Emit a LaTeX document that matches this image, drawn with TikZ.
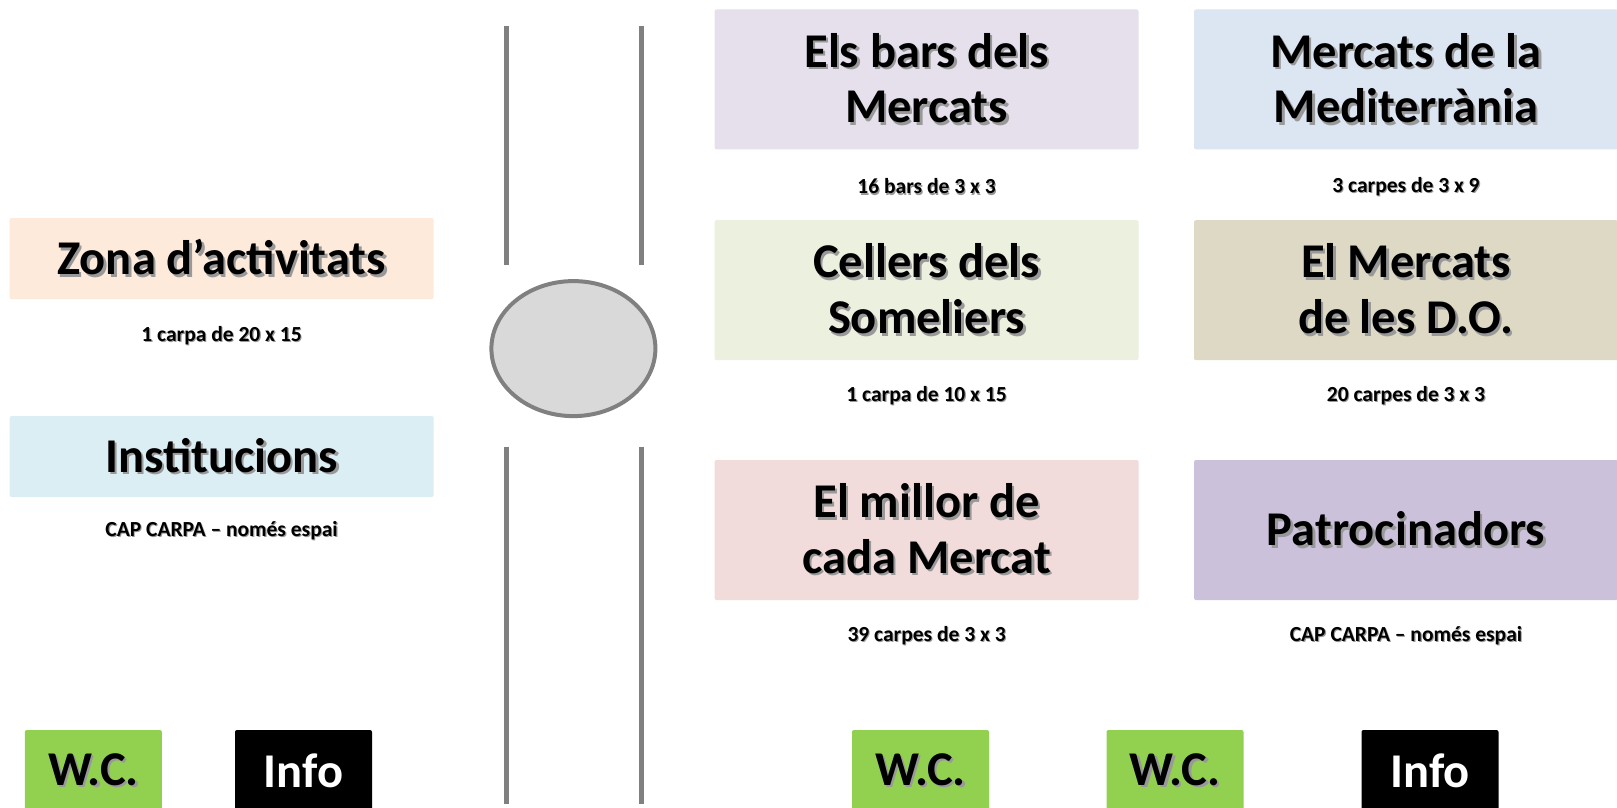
\documentclass[tikz,border=0pt]{standalone}
\usepackage{fontspec}
\setmainfont{Carlito}
\definecolor{zonac}{HTML}{FDEADA}
\definecolor{instc}{HTML}{DBEEF4}
\definecolor{barsc}{HTML}{E6E0EC}
\definecolor{medc}{HTML}{DCE6F2}
\definecolor{cellc}{HTML}{EBF1DE}
\definecolor{doc}{HTML}{DDD9C4}
\definecolor{millc}{HTML}{F2DCDB}
\definecolor{patc}{HTML}{CCC1DA}
\definecolor{wcc}{HTML}{92D050}
\definecolor{linec}{HTML}{808080}
\newcommand\shd[1]{\leavevmode\rlap{\hspace{0.05em}\raisebox{-0.05em}{\color{black!40}#1}}#1}

\begin{document}
\begin{tikzpicture}[x=1pt,y=-1pt,
    zonebox/.style={fill=#1, rounded corners=2pt, inner sep=0pt, minimum width=424pt,
        minimum height=140pt, align=center, font=\fontsize{48.5}{55.7}\selectfont\bfseries},
    sidebox/.style={zonebox=#1, minimum height=81pt},
    smallbox/.style={zonebox=#1, minimum width=137pt, minimum height=82pt},
    caption/.style={inner sep=0pt, font=\fontsize{21.5}{24}\selectfont\bfseries},
    wall/.style={linec, line width=4.5pt}]
    \useasboundingbox (0,0) rectangle (1617,808);
    \fill[white] (0,0) rectangle (1617,808);
    % left side
    \node[sidebox=zonac] (zona) at (221.6,258.5) {\shd{Zona d'activitats}};
    \node[caption] (zonacap) at (221.6,336.5) {\shd{1 carpa de 20 x 15}};
    \node[sidebox=instc] (inst) at (221.6,456.5) {\shd{Institucions}};
    \node[caption] (instcap) at (221.6,531.5) {\shd{CAP CARPA -- només espai}};
    % passage
    \draw[wall] (506.3,25.8) -- (506.3,265);
    \draw[wall] (641.4,25.8) -- (641.4,265);
    \draw[wall] (506.3,446.5) -- (506.3,804);
    \draw[wall] (641.4,446.5) -- (641.4,804);
    \filldraw[fill=black!15, draw=linec, line width=4pt] (573.4,348.6) ellipse [x radius=82, y radius=67.5];
    % right side
    \node[zonebox=barsc] (bars) at (926.6,79.4) {\shd{Els bars dels}\\\shd{Mercats}};
    \node[caption] (barscap) at (926.6,187) {\shd{16 bars de 3 x 3}};
    \node[zonebox=medc] (med) at (1406,79.4) {\shd{Mercats de la}\\\shd{Mediterrània}};
    \node[caption] (medcap) at (1406,187) {\shd{3 carpes de 3 x 9}};
    \node[zonebox=cellc] (cell) at (926.6,290.2) {\shd{Cellers dels}\\\shd{Someliers}};
    \node[caption] (cellcap) at (926.6,396.5) {\shd{1 carpa de 10 x 15}};
    \node[zonebox=doc] (do) at (1406,290.2) {\shd{El Mercats}\\\shd{de les D.O.}};
    \node[caption] (docap) at (1406,396.5) {\shd{20 carpes de 3 x 3}};
    \node[zonebox=millc] (mill) at (926.6,530) {\shd{El millor de}\\\shd{cada Mercat}};
    \node[caption] (millcap) at (926.6,635.7) {\shd{39 carpes de 3 x 3}};
    \node[zonebox=patc] (pat) at (1406,530) {\shd{Patrocinadors}};
    \node[caption] (patcap) at (1406,635.7) {\shd{CAP CARPA -- només espai}};
    % services
    \node[smallbox=wcc] (wca) at (93.4,771) {\shd{W.C.}};
    \node[smallbox=black, text=white] (infoa) at (303.5,771) {Info};
    \node[smallbox=wcc] (wcb) at (920.5,771) {\shd{W.C.}};
    \node[smallbox=wcc] (wcc) at (1175,771) {\shd{W.C.}};
    \node[smallbox=black, text=white] (infob) at (1430,771) {Info};
\end{tikzpicture}
\end{document}
